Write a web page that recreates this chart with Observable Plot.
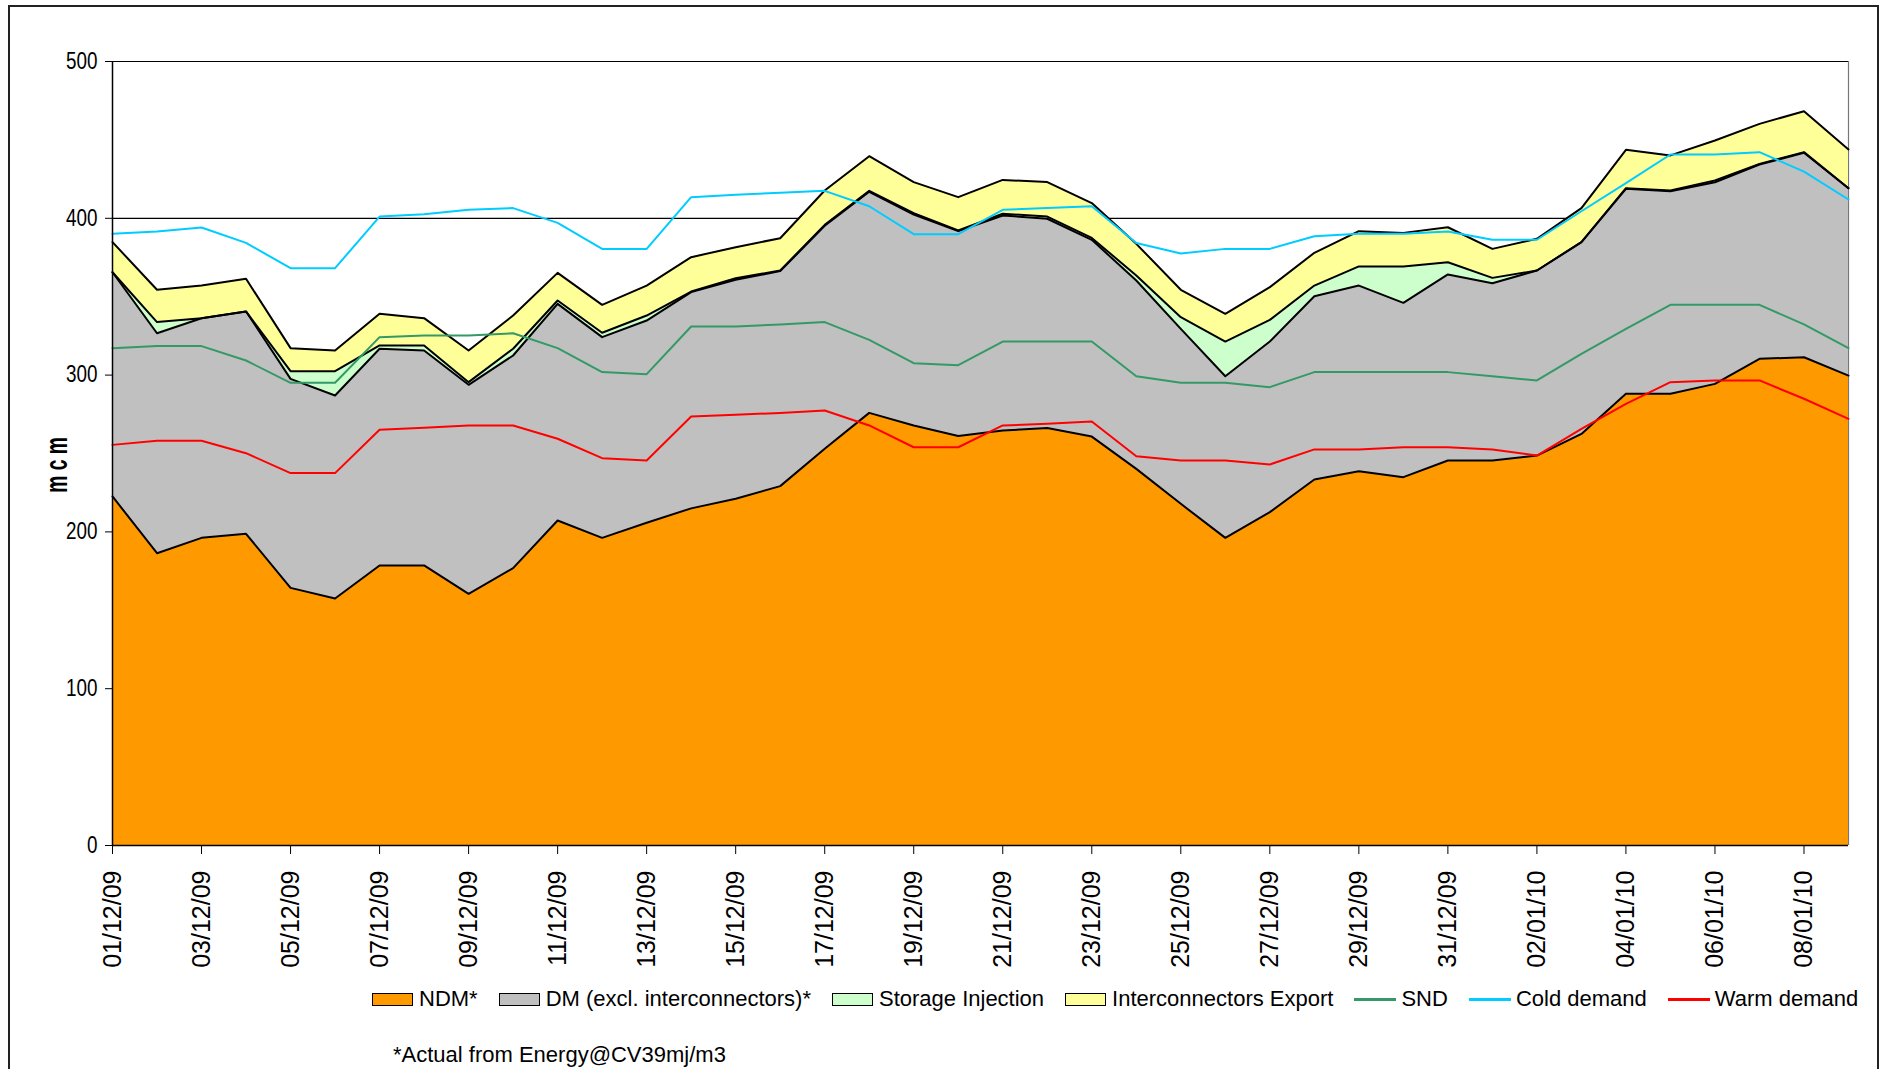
<!DOCTYPE html>
<html><head><meta charset="utf-8">
<script src="https://cdn.jsdelivr.net/npm/d3@7"></script>
<script src="https://cdn.jsdelivr.net/npm/@observablehq/plot@0.6"></script>
<style>
body{margin:0;background:#fff;font-family:"Liberation Sans",Arial,sans-serif;color:#000;}
#wrap{position:relative;width:1883px;height:1069px;overflow:hidden;}
#frame{position:absolute;left:8px;top:5px;width:1871px;height:1100px;border:2px solid #222;box-sizing:border-box;}
#chart{position:absolute;left:0;top:0;}
#ylabel{position:absolute;left:57px;top:465px;transform:translate(-50%,-50%) rotate(-90deg) scale(0.62,1);font-weight:bold;font-size:31px;white-space:nowrap;}
#legend{position:absolute;left:372px;top:987px;display:flex;align-items:center;font-size:22px;white-space:nowrap;line-height:24px;}
.item{display:flex;align-items:center;margin-right:21px;}
.sw{width:41px;height:13px;border:1.5px solid #000;box-sizing:border-box;margin-right:6px;}
.ln{width:42px;height:3px;margin-right:5px;}
#caption{position:absolute;left:393px;top:1042px;font-size:22px;}
</style></head>
<body>
<div id="wrap">
  <div id="frame"></div>
  <div id="chart"></div>
  <div id="ylabel"></div>
  <div id="legend"></div>
  <div id="caption">*Actual from Energy@CV39mj/m3</div>
</div>
<script>
const dayLabels = ["01/12/09","02/12/09","03/12/09","04/12/09","05/12/09","06/12/09","07/12/09","08/12/09","09/12/09","10/12/09",
  "11/12/09","12/12/09","13/12/09","14/12/09","15/12/09","16/12/09","17/12/09","18/12/09","19/12/09","20/12/09",
  "21/12/09","22/12/09","23/12/09","24/12/09","25/12/09","26/12/09","27/12/09","28/12/09","29/12/09","30/12/09",
  "31/12/09","01/01/10","02/01/10","03/01/10","04/01/10","05/01/10","06/01/10","07/01/10","08/01/10","09/01/10"];

const NDM = [222.6,186.4,196.2,198.8,164.3,157.5,178.6,178.6,160.5,176.9,207.3,196.2,205.8,215.0,221.1,229.2,253.0,275.9,267.9,261.1,
  264.7,266.2,260.8,240.2,217.9,196.2,212.6,233.4,238.7,234.9,245.5,245.5,248.7,262.5,288.1,288.1,294.4,310.4,311.4,299.7];
const DM = [143.0,140.3,140.1,141.8,133.3,129.5,138.2,137.1,133.3,135.6,138.1,128.0,129.0,137.9,139.7,137.1,142.2,141.0,134.5,130.7,
  137.1,133.5,125.5,120.1,111.6,103.1,108.8,116.9,118.4,111.2,118.7,113.1,118.0,122.3,130.7,129.2,128.6,123.9,130.4,119.5];
const storageInjection = [0,7.1,0,0,4.9,15.5,2.1,3.2,1.7,4.3,2.2,2.8,3.2,0.4,1.0,0.4,0.6,0.6,0.9,0.4,
  1.1,1.4,1.2,3.2,7.4,22.1,13.8,6.8,12.2,23.2,7.8,3.4,0,0,0.4,0.4,1.1,0.4,0.4,0];
const interconnectorsExport = [19.2,20.6,20.8,20.8,14.7,13.2,20.2,17.4,20.2,21.2,17.6,17.8,19.1,21.9,19.8,20.6,21.9,22.1,19.8,21.3,
  21.6,22.0,22.2,20.2,17.5,17.7,20.9,20.9,22.5,21.4,22.3,18.5,20.2,21.7,24.5,22.4,25.5,25.5,26.1,24.7];
const SND = [317.2,318.5,318.5,309.3,295.1,295.1,324.2,325.3,325.3,326.7,317.2,301.9,300.6,331.0,331.0,332.3,333.8,322.5,307.6,306.3,
  321.4,321.4,321.4,299.3,295.1,295.1,292.3,301.9,301.9,301.9,301.9,299.3,296.6,313.6,329.5,344.8,344.8,344.8,332.3,317.2];
const coldDemand = [390.1,391.6,394.1,384.3,368.2,368.2,401.1,402.6,405.4,406.5,397.1,380.5,380.5,413.5,415.0,416.3,417.5,407.7,389.9,389.9,
  405.4,406.5,407.7,384.3,377.6,380.5,380.5,388.6,390.1,390.1,391.6,386.3,386.3,404.5,422.4,440.7,440.7,442.2,429.8,412.0];
const warmDemand = [255.5,258.1,258.1,250.2,237.5,237.5,265.1,266.4,267.9,267.9,259.4,247.0,245.5,273.6,274.7,275.9,277.4,267.9,254.0,254.0,
  267.9,268.9,270.4,248.3,245.5,245.5,243.0,252.6,252.6,254.0,254.0,252.6,248.7,265.7,281.7,295.5,296.6,296.6,284.9,272.1];

const areaSeries = ["NDM*", "DM (excl. interconnectors)*", "Storage Injection", "Interconnectors Export"];
const areaColors = ["#FF9900", "#C0C0C0", "#CCFFCC", "#FFFF99"];
const lineSeries = ["SND", "Cold demand", "Warm demand"];
const lineColors = ["#339966", "#00CCFF", "#FF0000"];
const yTicks = [0, 100, 200, 300, 400, 500];
const yLabel = "m c m";

const parse = d3.utcParse("%d/%m/%y");
const dates = dayLabels.map(parse);
const areaValues = [NDM, DM, storageInjection, interconnectorsExport];
const areaData = areaSeries.flatMap((s, k) => dates.map((d, i) => ({date: d, series: s, value: areaValues[k][i]})));
const lineValues = [SND, coldDemand, warmDemand];
const lineData = lineSeries.flatMap((s, k) => dates.map((d, i) => ({date: d, series: s, value: lineValues[k][i]})));

const chart = Plot.plot({
  width: 1883, height: 985,
  marginLeft: 112, marginRight: 35, marginTop: 61, marginBottom: 140,
  style: {fontFamily: "'Liberation Sans', Arial, sans-serif", background: "transparent", color: "#000", overflow: "visible"},
  x: {type: "utc", domain: [dates[0], dates[dates.length - 1]]},
  y: {domain: [0, 500]},
  color: {domain: [...areaSeries, ...lineSeries], range: [...areaColors, ...lineColors]},
  marks: [
    Plot.ruleY(yTicks.slice(1), {stroke: "#000", strokeWidth: 1.2}),
    Plot.ruleX([dates[dates.length - 1]], {stroke: "#777", strokeWidth: 1.2}),
    Plot.areaY(areaData, {x: "date", y: "value", z: "series", fill: "series", fillOpacity: 1}),
    Plot.lineY(areaData, Plot.stackY2({x: "date", y: "value", z: "series", stroke: "#000", strokeWidth: 2})),
    Plot.lineY(lineData, {x: "date", y: "value", z: "series", stroke: "series", strokeWidth: 2}),
    Plot.ruleY([0], {stroke: "#000", strokeWidth: 1.5}),
    Plot.ruleX([dates[0]], {stroke: "#000", strokeWidth: 1.5}),
    Plot.axisY({ticks: yTicks, tickSize: 7, tickPadding: 8, fontSize: 23, label: null, ariaLabel: "y-axis"}),
    Plot.axisX({ticks: dates.filter((d, i) => i % 2 === 0), tickFormat: d3.utcFormat("%d/%m/%y"),
      tickRotate: -90, tickSize: 9, tickPadding: 16, fontSize: 25, label: null})
  ]
});
document.getElementById("chart").appendChild(chart);

chart.querySelectorAll('g[aria-label="y-axis tick label"] text').forEach(t => {
  const tr = t.getAttribute("transform") || "";
  t.setAttribute("transform", tr + " scale(0.82,1)");
});

document.getElementById("ylabel").textContent = yLabel;

const legend = document.getElementById("legend");
areaSeries.forEach((s, k) => {
  const it = document.createElement("div"); it.className = "item";
  it.innerHTML = `<span class="sw" style="background:${areaColors[k]}"></span><span>${s}</span>`;
  legend.appendChild(it);
});
lineSeries.forEach((s, k) => {
  const it = document.createElement("div"); it.className = "item";
  it.innerHTML = `<span class="ln" style="background:${lineColors[k]}"></span><span>${s}</span>`;
  legend.appendChild(it);
});
</script>
</body></html>
